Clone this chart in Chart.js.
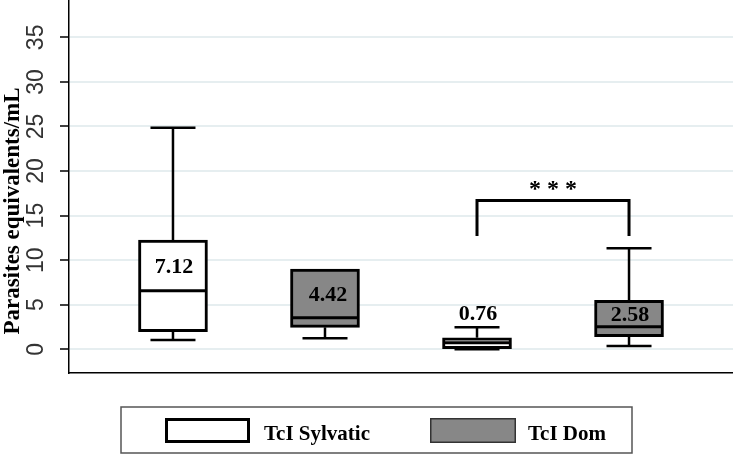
<!DOCTYPE html>
<html>
<head>
<meta charset="utf-8">
<script src="https://cdn.jsdelivr.net/npm/chart.js@4.4.0/dist/chart.umd.min.js"></script>
<style>
 body{margin:0;background:#fff;}
 #wrap{width:733px;height:454px;}
</style>
</head>
<body>
<div id="wrap"><canvas id="myChart" width="733" height="454"></canvas></div>
<script>
// boxes, left to right (x = 1..4)
var boxX      = [1, 2, 3, 4];
var boxMin    = [1.04, 1.23, 0.00, 0.37];
var boxQ1     = [1.97, 2.46, 0.07, 1.41];
var boxMedian = [6.57, 3.54, 0.74, 2.54];
var boxQ3     = [12.26, 9.01, 1.30, 5.50];
var boxMax    = [24.86, 9.01, 2.47, 11.33];
var meanLabels = ['7.12', '4.42', '0.76', '2.58'];

var seriesNames = ['TcI Sylvatic', 'TcI Dom'];
var sylvaticIdx = [0, 2];
var domIdx = [1, 3];

var yTicks = [0, 5, 10, 15, 20, 25, 30, 35];
var yTitle = 'Parasites equivalents/mL';

// significance between box 3 and 4
var sigPair = [2, 3];
var sigText = '* * *';

var GRAY = '#878787';
var SERIF = "'Liberation Serif', 'Times New Roman', serif";

function boxData(idx){
	return idx.map(function(i){ return {x: boxX[i], y: [boxQ1[i], boxQ3[i]]}; });
}

function line(ctx, x1, y1, x2, y2){
	ctx.beginPath();
	ctx.moveTo(x1, y1);
	ctx.lineTo(x2, y2);
	ctx.stroke();
}

// whiskers, medians, mean labels, bracket
var boxExtras = {
	id: 'boxExtras',
	afterDatasetsDraw: function(chart){
		var ctx = chart.ctx, xs = chart.scales.x, ys = chart.scales.y;
		var half = 34.5, cap = 22.5;
		ctx.save();
		ctx.strokeStyle = '#000';
		for (var i = 0; i < boxX.length; i++){
			var cx = xs.getPixelForValue(boxX[i]);
			var yq1 = ys.getPixelForValue(boxQ1[i]);
			var yq3 = ys.getPixelForValue(boxQ3[i]);
			var ymed = ys.getPixelForValue(boxMedian[i]);
			var ymax = ys.getPixelForValue(boxMax[i]);
			var ymin = ys.getPixelForValue(boxMin[i]);
			ctx.lineWidth = 2.5;
			if (boxMax[i] > boxQ3[i]){
				line(ctx, cx, yq3, cx, ymax);
				line(ctx, cx - cap, ymax, cx + cap, ymax);
			}
			if (boxMin[i] < boxQ1[i]){
				line(ctx, cx, yq1, cx, ymin);
				line(ctx, cx - cap, ymin, cx + cap, ymin);
			}
			ctx.lineWidth = 3;
			line(ctx, cx - half + 1.5, ymed, cx + half - 1.5, ymed);

			// mean label: inside box if room, else above whisker
			ctx.fillStyle = '#000';
			ctx.font = 'bold 22px ' + SERIF;
			ctx.textAlign = 'center';
			ctx.textBaseline = 'middle';
			var ly = (ymed - yq3) > 20 ? (yq3 + ymed) / 2 + 2 : ymax - 13;
			ctx.fillText(meanLabels[i], cx + (i == 1 ? 3 : 1), ly);
		}

		// bracket
		var bx1 = xs.getPixelForValue(boxX[sigPair[0]]);
		var bx2 = xs.getPixelForValue(boxX[sigPair[1]]);
		var legY = ys.getPixelForValue(12.7);
		var topY = ys.getPixelForValue(16.7);
		ctx.lineWidth = 3;
		ctx.lineJoin = 'miter';
		ctx.beginPath();
		ctx.moveTo(bx1, legY);
		ctx.lineTo(bx1, topY);
		ctx.lineTo(bx2, topY);
		ctx.lineTo(bx2, legY);
		ctx.stroke();
		ctx.font = 'bold 24px ' + SERIF;
		ctx.fillText(sigText, (bx1 + bx2) / 2, topY - 11);
		ctx.restore();
	},
	afterDraw: function(chart){
		var ctx = chart.ctx;
		ctx.save();

		// y title, sits a bit lower than the plot centre
		ctx.save();
		ctx.translate(13, 211);
		ctx.rotate(-Math.PI / 2);
		ctx.fillStyle = '#000';
		ctx.font = 'bold 23px ' + SERIF;
		ctx.textAlign = 'center';
		ctx.textBaseline = 'middle';
		ctx.fillText(yTitle, 0, 0);
		ctx.restore();

		// framed legend under the plot
		ctx.strokeStyle = '#555';
		ctx.lineWidth = 1.5;
		ctx.strokeRect(121, 407, 511, 46);

		ctx.fillStyle = '#fff';
		ctx.fillRect(165, 418, 85, 25);
		ctx.strokeStyle = '#000';
		ctx.lineWidth = 3;
		ctx.strokeRect(166.5, 419.5, 82, 22);

		ctx.fillStyle = GRAY;
		ctx.fillRect(430, 418, 86, 25);
		ctx.strokeStyle = '#333';
		ctx.lineWidth = 1.5;
		ctx.strokeRect(430.75, 418.75, 84.5, 23.5);

		ctx.fillStyle = '#000';
		ctx.font = 'bold 21px ' + SERIF;
		ctx.textAlign = 'left';
		ctx.textBaseline = 'alphabetic';
		ctx.fillText(seriesNames[0], 264, 440);
		ctx.fillText(seriesNames[1], 528, 440);
		ctx.restore();
	}
};

var chartData = {
	datasets: [{
		label: seriesNames[0],
		data: boxData(sylvaticIdx),
		backgroundColor: '#fff',
		borderColor: '#000',
		borderWidth: 3,
		borderSkipped: false,
		barThickness: 69,
		grouped: false
	}, {
		label: seriesNames[1],
		data: boxData(domIdx),
		backgroundColor: GRAY,
		borderColor: '#000',
		borderWidth: 3,
		borderSkipped: false,
		barThickness: 69,
		grouped: false
	}]
};

var chartConfig = {
	type: 'bar',
	data: chartData,
	options: {
		responsive: false,
		animation: false,
		layout: { padding: { top: 0, left: 0, right: 0, bottom: 81 } },
		plugins: { legend: { display: false }, tooltip: { enabled: false } },
		scales: {
			x: {
				type: 'linear',
				offset: false,
				min: 0.316,
				max: 4.684,
				ticks: { display: false },
				grid: { display: false, drawTicks: false },
				border: { color: '#000', width: 1.5 }
			},
			y: {
				min: -2.66,
				max: 39.19,
				afterBuildTicks: function(s){ s.ticks = yTicks.map(function(v){ return {value: v}; }); },
				afterFit: function(s){ s.width = 69; s.paddingTop = 0; s.paddingBottom = 0; },
				ticks: {
					minRotation: 90, maxRotation: 90,
					crossAlign: 'center',
					padding: 11,
					color: '#333',
					font: { family: "'Liberation Sans', Arial, sans-serif", size: 23 }
				},
				grid: { color: '#e6eef0', lineWidth: 2, tickColor: '#000', tickLength: 9, tickWidth: 1.5 },
				border: { color: '#000', width: 1.5 }
			}
		}
	},
	plugins: [boxExtras]
};

var myChart = new Chart(document.getElementById('myChart'), chartConfig);
</script>
</body>
</html>
